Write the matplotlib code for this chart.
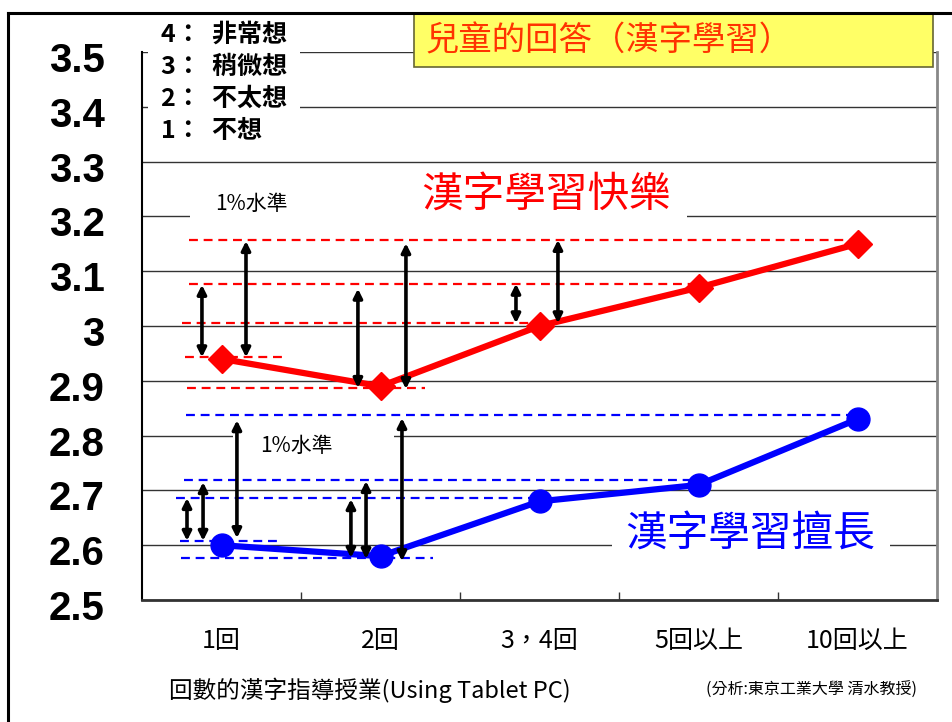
import matplotlib
matplotlib.use("Agg")
import matplotlib.pyplot as plt
from matplotlib.patches import Rectangle
from matplotlib.lines import Line2D
from matplotlib.transforms import ScaledTranslation

plt.rcParams['font.family'] = ['Noto Sans CJK TC', 'DejaVu Sans']

# ---------------- data ----------------
categories = ['1回', '2回', '3，4回', '5回以上', '10回以上']
enjoy = [2.94, 2.89, 3.00, 3.07, 3.15]      # 漢字學習快樂
good = [2.60, 2.58, 2.68, 2.71, 2.83]       # 漢字學習擅長
yticks = [2.5, 2.6, 2.7, 2.8, 2.9, 3.0, 3.1, 3.2, 3.3, 3.4, 3.5]
ytick_labels = ['2.5', '2.6', '2.7', '2.8', '2.9', '3', '3.1', '3.2', '3.3', '3.4', '3.5']
legend_lines = ['4：  非常想', '3：  稍微想', '2：  不太想', '1：  不想']

# significance reference levels: (level, x_start, x_end)
red_refs = [(3.157, -0.204, 4.0), (3.077, -0.204, 3.0), (3.005, -0.248, 2.0),
            (2.943, -0.23, 0.40), (2.887, -0.217, 1.28)]
blue_refs = [(2.838, -0.223, 4.0), (2.719, -0.236, 3.0), (2.686, -0.286, 2.0),
             (2.608, -0.261, 0.368), (2.577, -0.255, 1.33)]
# double arrows: (x, y_low, y_high)
red_arrows = [(-0.123, 2.943, 3.075), (0.154, 2.943, 3.155), (0.858, 2.887, 3.068),
              (1.160, 2.885, 3.151), (1.852, 3.005, 3.077), (2.116, 3.005, 3.157)]
blue_arrows = [(-0.217, 2.608, 2.686), (-0.116, 2.608, 2.715), (0.097, 2.613, 2.828),
               (0.814, 2.577, 2.684), (0.909, 2.575, 2.717), (1.135, 2.571, 2.832)]

W, H = 953, 722
fig = plt.figure(figsize=(W / 100, H / 100), dpi=100)
fig.patch.set_facecolor('white')

def fx(px):
    return px / W

def fy(py):
    return 1 - py / H

ax = fig.add_axes([fx(142), fy(600), fx(937) - fx(142), fy(52) - fy(600)])
x = list(range(len(categories)))
ax.set_xlim(-0.5, 4.5)
ax.set_ylim(2.5, 3.5)
ax.set_axisbelow(True)
ax.yaxis.grid(True, color='#333333', lw=1.0)

ax.spines['top'].set_visible(False)
ax.spines['left'].set_color('black')
ax.spines['left'].set_linewidth(1.5)
ax.spines['bottom'].set_color('#333333')
ax.spines['bottom'].set_linewidth(2)
ax.spines['right'].set_color('#888888')
ax.spines['right'].set_linewidth(2)

ax.set_yticks(yticks)
ax.set_yticklabels(ytick_labels, fontsize=29, fontweight='bold', family='Liberation Sans')
ax.tick_params(axis='y', length=0, pad=27)
for lab in ax.get_yticklabels():
    lab.set_transform(lab.get_transform() + ScaledTranslation(0, -5 / 100, fig.dpi_scale_trans))

ax.set_xticks(x)
ax.set_xticklabels(categories, fontsize=18)
ax.set_xticks([i + 0.5 for i in x[:-1]], minor=True)
ax.tick_params(axis='x', which='major', length=0, pad=20)
ax.tick_params(axis='x', which='minor', direction='in', length=6, width=1, color='#333333')

# white boxes behind annotation texts (hide gridlines)
for (x0, x1, y0, y1) in [(-0.198, 2.928, 3.184, 3.276), (0.072, 1.085, 2.755, 2.814),
                         (2.456, 4.204, 2.573, 2.661)]:
    ax.add_patch(Rectangle((x0, y0), x1 - x0, y1 - y0, facecolor='white',
                           edgecolor='none', zorder=1))

# dashed reference lines
for lvl, xs, xe in red_refs:
    ax.plot([xs, xe], [lvl, lvl], color='#FF0000', lw=1.6, dashes=(4, 2.6), zorder=2)
for lvl, xs, xe in blue_refs:
    ax.plot([xs, xe], [lvl, lvl], color='#0000FF', lw=1.6, dashes=(4, 2.6), zorder=2)

# data lines
ax.plot(x, enjoy, color='#FF0000', lw=4.5, marker='D', markersize=14, zorder=3)
ax.plot(x, good, color='#0000FF', lw=4.5, marker='o', markersize=16.5, zorder=3)

# arrows
for xa, y0, y1 in red_arrows + blue_arrows:
    ax.annotate('', xy=(xa, y1), xytext=(xa, y0),
                arrowprops=dict(arrowstyle='<|-|>', color='black', lw=2.6,
                                mutation_scale=13, shrinkA=0, shrinkB=0), zorder=4)

# texts inside plot
ax.text(2.04, 3.239, '漢字學習快樂', color='#FF0000', fontsize=30,
        ha='center', va='center', zorder=5)
ax.text(3.324, 2.619, '漢字學習擅長', color='#0000FF', fontsize=30,
        ha='center', va='center', zorder=5)
ax.text(0.19, 3.223, '1%水準', fontsize=15, ha='center', va='center', zorder=5)
ax.text(0.468, 2.781, '1%水準', fontsize=15, ha='center', va='center', zorder=5)

# legend box (top-left) & text
fig.add_artist(Rectangle((fx(148), fy(147)), fx(300) - fx(148), fy(18) - fy(147),
                         transform=fig.transFigure, facecolor='white', edgecolor='none',
                         zorder=2))
for i, t in enumerate(legend_lines):
    fig.text(fx(161), fy(35 + i * 32), t, fontsize=18, fontweight='black',
             ha='left', va='center', zorder=3)

# yellow title box
fig.add_artist(Rectangle((fx(414), fy(67)), fx(933) - fx(414), fy(14) - fy(67),
                         transform=fig.transFigure, facecolor='#FFFF66',
                         edgecolor='#666633', lw=1.2, zorder=2))
fig.text(fx(425), fy(41), '兒童的回答（漢字學習）', color='#FF3300', fontsize=24,
         ha='left', va='center', zorder=3)

# axis label & note
fig.text(fx(370), fy(690), '回數的漢字指導授業(Using Tablet PC)', fontsize=17,
         ha='center', va='center')
fig.text(fx(812), fy(690), '(分析:東京工業大學 清水教授)', fontsize=11.5,
         ha='center', va='center')

# outer frame
fig.add_artist(Line2D([fx(8), fx(8)], [0, fy(13)], transform=fig.transFigure,
                      color='black', lw=2.2))
fig.add_artist(Line2D([fx(8), 1], [fy(13), fy(13)], transform=fig.transFigure,
                      color='black', lw=2.2))

fig.savefig('out.png', dpi=100)
